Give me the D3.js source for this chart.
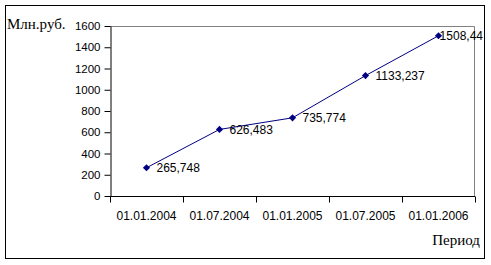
<!DOCTYPE html>
<html><head><meta charset="utf-8">
<script src="https://cdn.jsdelivr.net/npm/d3@7"></script>
<style>body{margin:0;background:#fff}svg{display:block}</style>
</head><body>
<svg id="c" width="491" height="265"></svg>
<script>
const categories = ["01.01.2004","01.07.2004","01.01.2005","01.07.2005","01.01.2006"];
const values = [265.748, 626.483, 735.774, 1133.237, 1508.44];
const valueLabels = ["265,748","626,483","735,774","1133,237","1508,44"];
const yTicks = [0,200,400,600,800,1000,1200,1400,1600];

const svg = d3.select("#c");
const plot = {l:110, t:26, r:475, b:196};
const sans = "Arial, 'Liberation Sans', sans-serif";
const serif = "'Times New Roman','Liberation Serif',serif";

svg.append("rect").attr("x",5.5).attr("y",5.5).attr("width",479).attr("height",253)
  .attr("fill","#fff").attr("stroke","#000").attr("stroke-width",1);

const x = d3.scaleBand().domain(categories).range([plot.l, plot.r]);
const y = d3.scaleLinear().domain([0,1600]).range([plot.b, plot.t]);

svg.append("path").attr("d",`M${plot.l},${plot.t+0.5}H${plot.r-0.5}V${plot.b}`)
  .attr("fill","none").attr("stroke","#808080");

const ya = svg.append("g").attr("transform",`translate(${plot.l+0.5},0)`)
  .call(d3.axisLeft(y).tickValues(yTicks).tickFormat(d3.format("d")).tickSize(6).tickPadding(4).tickSizeOuter(0));
ya.select(".domain").attr("stroke","#000");
ya.selectAll("line").attr("stroke","#000");
ya.selectAll("text").attr("font-family",sans).attr("font-size","11.5px").attr("fill","#000");

const xa = svg.append("g").attr("transform",`translate(0,${plot.b+0.5})`);
xa.append("line").attr("x1",plot.l).attr("x2",plot.r).attr("stroke","#000");
const bounds = categories.map(c=>x(c)).concat([x(categories[categories.length-1])+x.bandwidth()]);
xa.selectAll("line.tk").data(bounds).enter().append("line").attr("class","tk")
  .attr("x1",d=>Math.round(d)+0.5).attr("x2",d=>Math.round(d)+0.5).attr("y1",0).attr("y2",6).attr("stroke","#000");
xa.selectAll("text").data(categories).enter().append("text")
  .attr("x",d=>x(d)+x.bandwidth()/2).attr("y",23).attr("text-anchor","middle")
  .attr("font-family",sans).attr("font-size","12px").text(d=>d);

const cx = (d,i)=>x(categories[i])+x.bandwidth()/2;
svg.append("path").datum(values)
  .attr("d",d3.line().x(cx).y(d=>y(d)))
  .attr("fill","none").attr("stroke","#000080").attr("stroke-width",1);

const s = 3.6;
svg.selectAll("path.mk").data(values).enter().append("path").attr("class","mk")
  .attr("d",`M0,${-s}L${s},0L0,${s}L${-s},0Z`)
  .attr("transform",(d,i)=>`translate(${cx(d,i)},${y(d)})`)
  .attr("fill","#000080");

svg.selectAll("text.lb").data(values).enter().append("text").attr("class","lb")
  .attr("x",(d,i)=>cx(d,i)+10).attr("y",d=>y(d)+4.5)
  .attr("font-family",sans).attr("font-size","12px").attr("fill","#000")
  .text((d,i)=>valueLabels[i])
  .each(function(){
    const w = this.getComputedTextLength();
    const xx = +this.getAttribute("x");
    if (xx + w > 483) this.setAttribute("x", 483 - w);
  });

svg.append("text").attr("x",7).attr("y",29).attr("font-family",serif)
  .attr("font-size","15px").text("Млн.руб.");
svg.append("text").attr("x",480).attr("y",245).attr("text-anchor","end").attr("font-family",serif)
  .attr("font-size","15px").text("Период");
</script>
</body></html>
